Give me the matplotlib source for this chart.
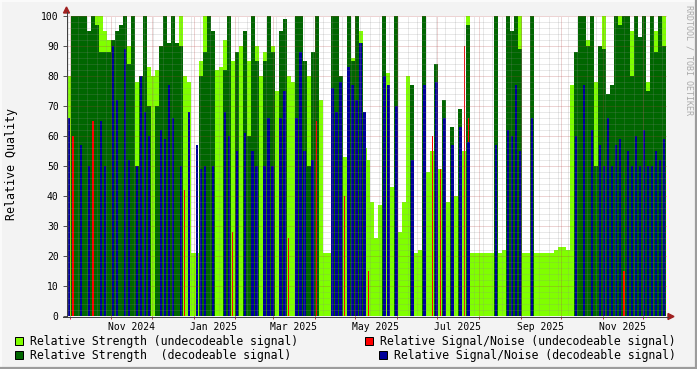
import matplotlib
matplotlib.use('Agg')
import matplotlib.pyplot as plt
import pandas as pd
import matplotlib.dates as mdates
from matplotlib.patches import Rectangle, Polygon

# Relative quality per ~3 day bin, 0 = no value
strength_undec = [
    80, 100, 100, 0, 0, 0, 100, 100, 100, 95, 92, 0, 0, 0, 0, 90, 0, 78, 80, 0, 83, 80, 82, 0, 0,
    85, 0, 0, 100, 80, 78, 21, 21, 85, 100, 90, 90, 82, 83, 92, 100, 85, 84, 90, 80, 85, 100, 90, 80, 88,
    100, 90, 75, 0, 90, 80, 78, 0, 0, 83, 80, 85, 88, 72, 21, 21, 0, 70, 70, 53, 0, 86, 0, 95, 56,
    52, 38, 26, 37, 0, 81, 43, 0, 28, 38, 80, 60, 21, 22, 100, 48, 55, 50, 49, 55, 38, 40, 40, 40, 55,
    100, 21, 21, 21, 21, 21, 21, 78, 21, 22, 0, 0, 0, 100, 21, 21, 79, 21, 21, 21, 21, 21, 22, 23, 23,
    22, 77, 80, 0, 0, 92, 88, 78, 0, 100, 74, 77, 100, 100, 0, 100, 95, 80, 89, 89, 78, 86, 95, 74, 100,
]
strength_dec = [
    0, 100, 100, 100, 100, 95, 100, 97, 88, 88, 88, 92, 95, 97, 100, 84, 100, 50, 80, 100, 70, 0, 70, 90, 100,
    91, 100, 91, 90, 0, 0, 0, 0, 80, 88, 100, 95, 0, 0, 82, 100, 0, 88, 0, 95, 60, 100, 85, 0, 85,
    100, 88, 0, 95, 99, 0, 0, 100, 100, 85, 50, 88, 100, 0, 0, 0, 100, 100, 80, 0, 100, 85, 100, 91, 0,
    0, 0, 0, 0, 100, 0, 0, 100, 0, 0, 0, 77, 0, 0, 100, 0, 0, 84, 0, 72, 0, 63, 0, 69, 0,
    97, 0, 0, 0, 0, 0, 0, 100, 0, 0, 100, 95, 100, 89, 0, 0, 100, 0, 0, 0, 0, 0, 0, 0, 0,
    0, 0, 88, 100, 100, 90, 100, 50, 90, 89, 74, 77, 100, 97, 100, 100, 80, 100, 93, 100, 75, 100, 88, 100, 90,
]
snr_undec = [
    0, 60, 0, 0, 0, 0, 65, 0, 0, 0, 0, 0, 0, 0, 0, 0, 0, 0, 0, 0, 0, 0, 0, 0, 0,
    0, 0, 0, 0, 42, 0, 0, 0, 0, 0, 0, 0, 0, 0, 0, 0, 28, 0, 0, 0, 0, 0, 0, 0, 0,
    0, 0, 0, 0, 0, 26, 0, 0, 0, 0, 0, 0, 65, 0, 0, 0, 0, 0, 0, 40, 0, 0, 0, 0, 16,
    15, 0, 0, 0, 0, 0, 0, 0, 0, 0, 0, 0, 0, 0, 0, 0, 60, 0, 49, 0, 0, 0, 0, 0, 90,
    66, 0, 0, 0, 0, 0, 0, 0, 0, 0, 0, 0, 0, 0, 0, 0, 0, 0, 0, 0, 0, 0, 0, 0, 0,
    0, 0, 0, 0, 0, 0, 0, 0, 0, 0, 0, 0, 0, 0, 15, 0, 0, 0, 0, 0, 0, 0, 0, 0, 0,
]
snr_dec = [
    66, 0, 0, 57, 0, 50, 0, 0, 65, 50, 0, 90, 72, 0, 89, 52, 0, 50, 80, 68, 60, 0, 0, 62, 59,
    77, 66, 0, 50, 0, 68, 0, 57, 49, 50, 0, 50, 0, 0, 68, 60, 0, 55, 0, 61, 0, 55, 50, 0, 50,
    66, 50, 0, 66, 75, 0, 0, 66, 88, 55, 0, 52, 0, 0, 0, 0, 76, 68, 78, 0, 83, 77, 72, 91, 68,
    0, 0, 0, 0, 80, 77, 0, 70, 0, 0, 0, 52, 0, 0, 77, 0, 0, 78, 0, 66, 0, 57, 0, 63, 0,
    58, 0, 0, 0, 0, 0, 0, 57, 0, 0, 62, 60, 77, 55, 0, 0, 66, 0, 0, 0, 0, 0, 0, 0, 0,
    0, 0, 60, 0, 77, 0, 62, 0, 57, 50, 66, 50, 57, 59, 0, 55, 50, 60, 50, 62, 50, 50, 55, 52, 59,
]

month_labels = ['Nov 2024', 'Jan 2025', 'Mar 2025', 'May 2025', 'Jul 2025', 'Sep 2025', 'Nov 2025']
label_dates = ['2024-11-16', '2025-01-16', '2025-03-16', '2025-05-16', '2025-07-16', '2025-09-16', '2025-11-16']

legend_items = [
    ('Relative Strength (undecodeable signal)', '#80FF00'),
    ('Relative Signal/Noise (undecodeable signal)', '#FF0000'),
    ('Relative Strength  (decodeable signal)', '#006600'),
    ('Relative Signal/Noise (decodeable signal)', '#000099'),
]

MONO = 'DejaVu Sans Mono'
W, H = 697, 369

start = pd.Timestamp('2024-09-29')
end = pd.Timestamp('2025-12-18')
n = len(strength_dec)
step = (end - start) / n
x = mdates.date2num([start + step * i for i in range(n)])
width = mdates.date2num(start + step) - mdates.date2num(start)

fig = plt.figure(figsize=(W / 100, H / 100), dpi=100, facecolor='#F3F3F3')
ax = fig.add_axes([67 / W, 1 - 316 / H, 599 / W, 300 / H])
ax.set_facecolor('white')

# drawing order as in rrdtool: strengths first, S/N on top (S/N columns are thin)
ax.bar(x, strength_undec, width=width, align='edge', color='#80FF00', linewidth=0,
       antialiased=False, zorder=1)
ax.bar(x, strength_dec, width=width, align='edge', color='#006600', linewidth=0,
       antialiased=False, zorder=2)
ax.bar(x + width * 0.3, snr_undec, width=width * 0.35, align='edge', color='#FF0000',
       linewidth=0, antialiased=False, zorder=3)
ax.bar(x + width * 0.2, snr_dec, width=width * 0.6, align='edge', color='#000099',
       linewidth=0, antialiased=False, zorder=4)

ax.set_xlim(mdates.date2num(start), mdates.date2num(end))
ax.set_ylim(0, 100)

# grid (rrdtool draws it on top of the data)
dots = (0, (1, 1))
for d in pd.date_range(start, end, freq='W-MON'):
    ax.axvline(d, color='#8C8C8C', alpha=0.4, lw=0.72, ls=dots, zorder=5)
months = pd.date_range(start, end, freq='MS')
for d in months:
    ax.axvline(d, color='#B04040', alpha=0.45, lw=0.72, ls=dots, zorder=6)
for v in range(2, 101, 2):
    if v % 10:
        ax.axhline(v, color='#8C8C8C', alpha=0.4, lw=0.72, ls=dots, zorder=5)
    else:
        ax.axhline(v, color='#B04040', alpha=0.45, lw=0.72, ls=dots, zorder=6, clip_on=False)

for s in ax.spines.values():
    s.set_visible(False)

ax.set_yticks(range(0, 101, 10))
ax.set_yticklabels([str(v) for v in range(0, 101, 10)], family=MONO, fontsize=7)
ax.tick_params(axis='y', length=3, width=0.72, color='#555555', pad=3, labelcolor='black')

ax.set_xticks(mdates.date2num(months))
ax.set_xticklabels([])
ax.tick_params(axis='x', which='major', length=2, width=0.72, color='#C04040')
ax.set_xticks(mdates.date2num(pd.to_datetime(label_dates)), minor=True)
ax.set_xticklabels(month_labels, minor=True, family=MONO, fontsize=7)
ax.tick_params(axis='x', which='minor', length=0, pad=4)

# overlay in pixel coordinates for axes lines, legend and labels
ov = fig.add_axes([0, 0, 1, 1], facecolor='none')
ov.set_xlim(0, W)
ov.set_ylim(H, 0)
ov.axis('off')

ov.plot([66.5, 66.5], [316, 12], color='#404040', lw=0.72)
ov.plot([63, 668], [316.5, 316.5], color='#404040', lw=0.72)
ov.add_patch(Polygon([[63.5, 13], [69.5, 13], [66.5, 7]], closed=True, color='#A02020'))
ov.add_patch(Polygon([[668, 313.5], [668, 319.5], [674, 316.5]], closed=True, color='#A02020'))

ov.text(12, 164.5, 'Relative Quality', rotation=90, ha='center', va='center',
        family=MONO, fontsize=8.4)
ov.text(688.5, 5, 'RRDTOOL / TOBI OETIKER', rotation=270, ha='center', va='top',
        family=MONO, fontsize=6, color='#AAAAAA')

legend_pos = [(15, 337, 30.5, 341), (365, 337, 380.5, 341), (15, 351, 30.5, 355), (379, 351, 394.5, 355)]
for (label, col), (sx, sy, tx, ty) in zip(legend_items, legend_pos):
    ov.add_patch(Rectangle((sx, sy), 8, 8, facecolor=col, edgecolor='black', lw=0.72))
    ov.text(tx, ty, label, ha='left', va='center', family=MONO, fontsize=8.3)

# rrdtool style frame shading
ov.plot([0, W], [0.5, 0.5], color='#FCFCFC', lw=1.2)
ov.plot([0.5, 0.5], [0, H], color='#FCFCFC', lw=1.2)
ov.plot([0, W], [367.8, 367.8], color='#9C9C9C', lw=1.6)
ov.plot([695.8, 695.8], [0, H], color='#9C9C9C', lw=1.6)

fig.savefig('out.png', dpi=100, facecolor=fig.get_facecolor())
